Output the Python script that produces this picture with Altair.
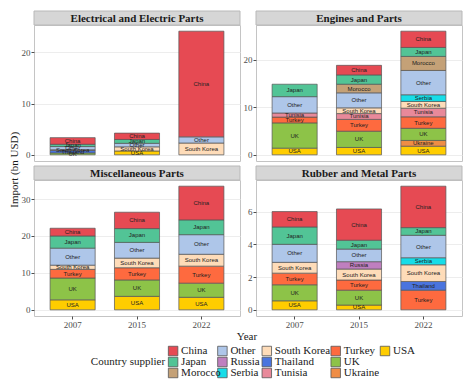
import altair as alt
import numpy as np
import pandas as pd

years = ["2007", "2015", "2022"]
suppliers = ["China", "Japan", "Morocco", "Other", "Russia", "Serbia", "South Korea",
             "Thailand", "Tunisia", "Turkey", "UK", "Ukraine", "USA"]
colors = ["#e64a53", "#52c496", "#c4a177", "#aec6e9", "#bf7fbf", "#17dde8", "#fedcb9",
          "#4a74de", "#e8899a", "#fe6a3f", "#8dc348", "#ef8d45", "#ffcd00"]

panel_names = ["Electrical and Electric Parts", "Engines and Parts",
               "Miscellaneous Parts", "Rubber and Metal Parts"]

electrical = {
    "China": [1.30, 1.24, 20.60],
    "Japan": [0.44, 0.75, 0.00],
    "Other": [0.62, 0.68, 1.20],
    "South Korea": [0.12, 0.81, 2.30],
    "Thailand": [0.50, 0.00, 0.00],
    "UK": [0.37, 0.00, 0.00],
    "USA": [0.00, 0.75, 0.00],
}
engines = {
    "China": [0.00, 2.02, 3.43],
    "Japan": [2.62, 1.96, 1.89],
    "Morocco": [0.00, 1.82, 2.96],
    "Other": [3.44, 3.16, 5.12],
    "Serbia": [0.00, 0.00, 1.41],
    "South Korea": [0.00, 1.21, 1.42],
    "Tunisia": [0.87, 1.22, 1.82],
    "Turkey": [1.22, 2.49, 2.42],
    "UK": [5.32, 3.43, 2.56],
    "Ukraine": [0.00, 0.00, 1.21],
    "USA": [1.41, 1.55, 1.82],
}
misc = {
    "China": [2.09, 4.43, 9.13],
    "Japan": [3.30, 3.74, 4.00],
    "Other": [4.61, 4.26, 5.31],
    "South Korea": [1.13, 2.61, 3.21],
    "Turkey": [2.35, 3.30, 4.61],
    "UK": [5.91, 4.44, 3.83],
    "USA": [2.70, 3.65, 3.39],
}
rubber = {
    "China": [0.94, 1.91, 2.53],
    "Japan": [1.06, 0.54, 0.47],
    "Other": [1.10, 0.77, 1.37],
    "Russia": [0.00, 0.45, 0.00],
    "Serbia": [0.00, 0.00, 0.43],
    "South Korea": [0.66, 0.67, 1.02],
    "Thailand": [0.00, 0.00, 0.53],
    "Turkey": [0.71, 0.62, 1.20],
    "UK": [0.98, 0.91, 0.00],
    "USA": [0.55, 0.29, 0.00],
}
panel_data = [electrical, engines, misc, rubber]
tick_steps = [5, 10, 10, 2]

SERIF = "Liberation Serif"
SANS = "Liberation Sans"
W, H = 206, 136
STRIP = 14
color_scale = alt.Scale(domain=suppliers, range=colors)


def build_df(d):
    rows = []
    for yi, yr in enumerate(years):
        cum = 0.0
        for s in reversed(suppliers):
            v = d.get(s, [0, 0, 0])[yi]
            if v <= 0:
                continue
            rows.append({"year": yr, "supplier": s, "value": v,
                         "y0": cum, "y1": cum + v, "mid": cum + v / 2})
            cum += v
    return pd.DataFrame(rows)


def panel(name, d, step, bottom):
    df = build_df(d)
    top = df.groupby("year")["y1"].max().max()
    lo, hi = -0.05 * top, 1.05 * top
    vals = [float(v) for v in np.arange(0, hi, step / 2)]
    cond = f"abs(datum.value % {step}) < 1e-6"
    yaxis = alt.Axis(values=vals, labelExpr=f"{cond} ? datum.label : ''",
                     tickOpacity={"condition": {"test": cond, "value": 1}, "value": 0},
                     gridWidth={"condition": {"test": cond, "value": 0.9}, "value": 0.45},
                     title=None)
    if bottom:
        xaxis = alt.Axis(labelAngle=0, title=None, bandPosition=0.5)
    else:
        xaxis = alt.Axis(labels=False, ticks=False, title=None, bandPosition=0.5)
    xenc = alt.X("year:N", sort=years,
                 scale=alt.Scale(paddingInner=0.3, paddingOuter=0.25), axis=xaxis)
    yscale = alt.Scale(domain=[lo, hi], nice=False, zero=False)
    base = alt.Chart(df)
    bars = base.mark_bar(stroke="#555555", strokeWidth=0.7).encode(
        x=xenc,
        y=alt.Y("y0:Q", scale=yscale, axis=yaxis),
        y2="y1:Q",
        color=alt.Color("supplier:N", scale=color_scale, legend=None),
    )
    labels = base.mark_text(font=SANS, fontSize=6, color="#222222").encode(
        x=alt.X("year:N", sort=years),
        y=alt.Y("mid:Q"),
        text="supplier:N",
    )
    sdf = pd.DataFrame({"t": [name]})
    strip = alt.Chart(sdf).mark_rect(fill="#d6d6d6", stroke="#b8b8b8", strokeWidth=1).encode(
        x=alt.value(0), x2=alt.value(W), y=alt.value(-STRIP), y2=alt.value(0))
    strip_text = alt.Chart(sdf).mark_text(font=SERIF, fontSize=11, fontWeight="bold",
                                          color="#1a1a1a", baseline="middle").encode(
        x=alt.value(W / 2), y=alt.value(-STRIP / 2 + 0.5), text="t:N")
    return alt.layer(strip, strip_text, bars, labels).properties(width=W, height=H)


panels = [panel(n, d, s, i >= 2) for i, (n, d, s) in
          enumerate(zip(panel_names, panel_data, tick_steps))]

grid = alt.concat(*panels, columns=2, spacing={"row": 3, "column": 1}).properties(
    title=alt.TitleParams("Import (bn USD)", orient="left", anchor="middle",
                          font=SERIF, fontSize=11, fontWeight="normal", color="#1a1a1a",
                          offset=1)
)

# custom legend laid out in 5 columns, 3 rows (column-major)
LW = 2 * W + 14
char_w = 4.9
title_txt = "Country supplier"
title_w = len(title_txt) * 4.3
col_items = [[s for i, s in enumerate(suppliers) if i // 3 == c] for c in range(5)]
col_w = [10 + 3 + max(len(s) for s in items) * char_w + 2 for items in col_items]
total_w = title_w + 3 + sum(col_w)
start = (LW - total_w) / 2 + 6
leg_rows = []
for i, s in enumerate(suppliers):
    c, r = i // 3, i % 3
    cx = start + title_w + 3 + sum(col_w[:c])
    leg_rows.append({"supplier": s, "sx": cx + 5, "lx": cx + 13, "py": r * 11 + 6})
leg_df = pd.DataFrame(leg_rows)
leg_base = alt.Chart(leg_df)
sym = leg_base.mark_square(size=90, stroke="#555555", strokeWidth=0.8, opacity=1).encode(
    x=alt.X("sx:Q", scale=None, axis=None),
    y=alt.Y("py:Q", scale=None, axis=None),
    color=alt.Color("supplier:N", scale=color_scale, legend=None),
)
lab = leg_base.mark_text(font=SERIF, fontSize=11, align="left", baseline="middle",
                         color="#1a1a1a").encode(
    x=alt.X("lx:Q", scale=None, axis=None),
    y=alt.Y("py:Q", scale=None, axis=None),
    text="supplier:N",
)
ttl_df = pd.DataFrame({"t": [title_txt], "x": [start + title_w], "y": [17]})
ttl = alt.Chart(ttl_df).mark_text(font=SERIF, fontSize=11, align="right", baseline="middle",
                                  color="#1a1a1a").encode(
    x=alt.X("x:Q", scale=None, axis=None),
    y=alt.Y("y:Q", scale=None, axis=None),
    text="t:N",
)
legend_chart = alt.layer(sym, lab, ttl).properties(
    width=LW, height=34,
    view=alt.ViewBackground(stroke="transparent"),
    title=alt.TitleParams("Year", anchor="middle", font=SERIF, fontSize=11,
                          fontWeight="normal", color="#1a1a1a", offset=3),
)

chart = alt.vconcat(grid, legend_chart, spacing=0).properties(
    padding={"left": 0, "top": 2, "right": 2, "bottom": 0}
).configure_view(
    stroke="#c4c4c4", strokeWidth=1
).configure_axis(
    domain=False, gridColor="#ebebeb", labelFont=SERIF, labelFontSize=9,
    labelColor="#4d4d4d", tickColor="#4d4d4d", tickSize=3, labelPadding=1
)

chart.save("out.html", embed_options={"renderer": "svg", "actions": False})
